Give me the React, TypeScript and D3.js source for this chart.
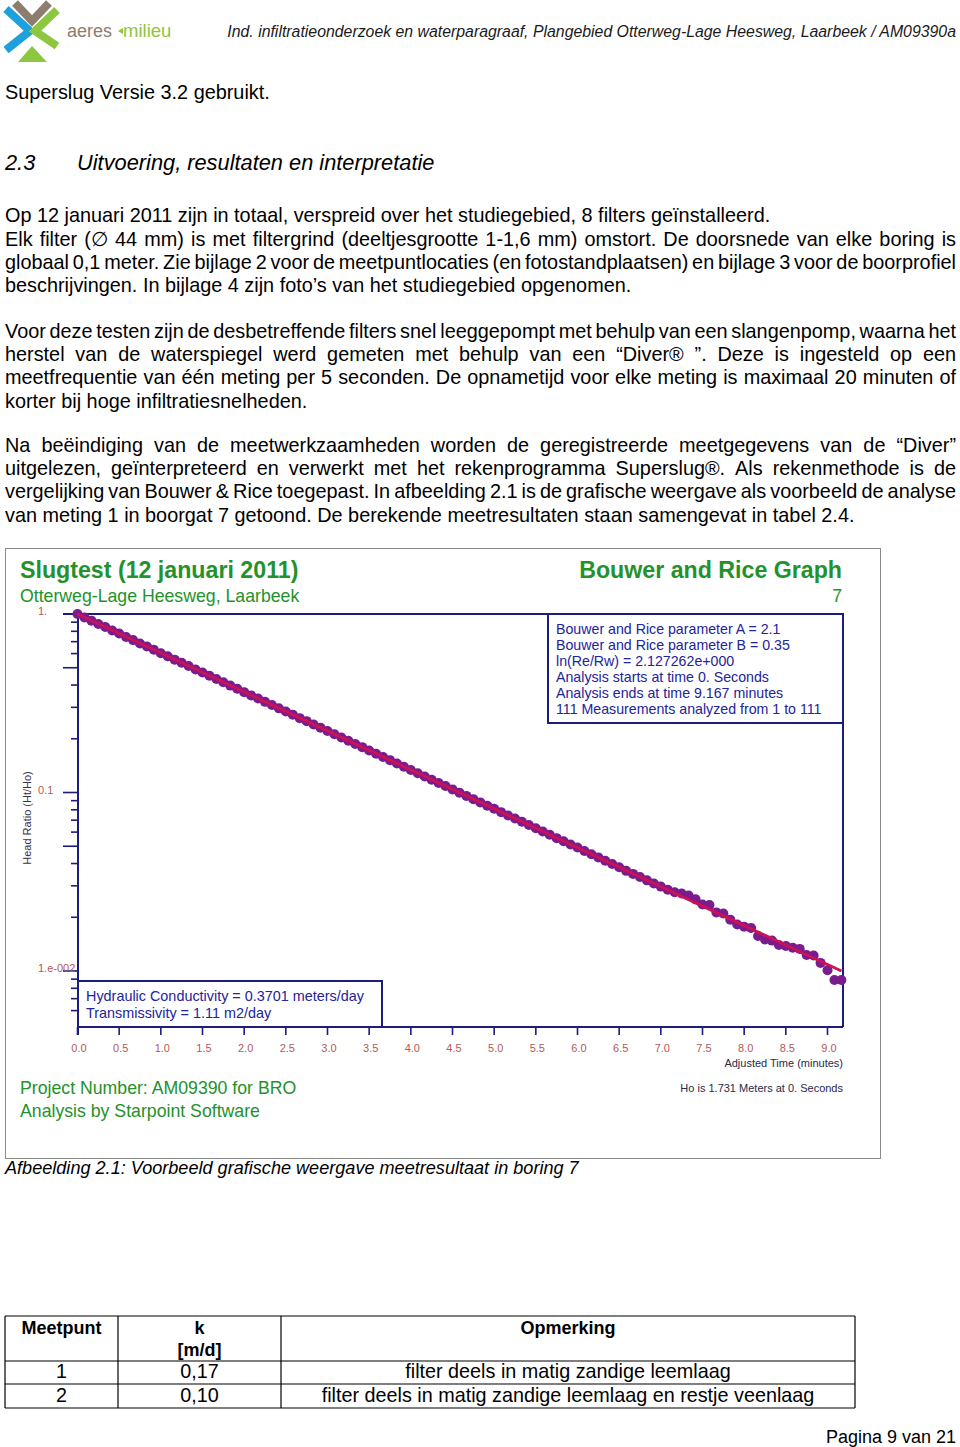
import React, { useEffect, useRef } from 'react';
import * as d3 from 'd3';

const W = 960;
const H = 1447;
const FONT = "'Liberation Sans', Arial, sans-serif";

// page text
const HEADER_TEXT = 'Ind. infiltratieonderzoek en waterparagraaf, Plangebied Otterweg-Lage Heesweg, Laarbeek / AM09390a';
const INTRO_LINE = 'Superslug Versie 3.2 gebruikt.';
const SECTION_NR = '2.3';
const SECTION_TITLE = 'Uitvoering, resultaten en interpretatie';
const PARA_1A = ['Op 12 januari 2011 zijn in totaal, verspreid over het studiegebied, 8 filters geïnstalleerd.'];
const PARA_1B = [
  'Elk filter (∅ 44 mm) is met filtergrind (deeltjesgrootte 1-1,6 mm) omstort. De doorsnede van elke boring is',
  'globaal 0,1 meter. Zie bijlage 2 voor de meetpuntlocaties (en fotostandplaatsen) en bijlage 3 voor de boorprofiel',
  'beschrijvingen. In bijlage 4 zijn foto’s van het studiegebied opgenomen.',
];
const PARA_2 = [
  'Voor deze testen zijn de desbetreffende filters snel leeggepompt met behulp van een slangenpomp, waarna het',
  'herstel van de waterspiegel werd gemeten met behulp van een “Diver® ”. Deze is ingesteld op een',
  'meetfrequentie van één meting per 5 seconden. De opnametijd voor elke meting is maximaal 20 minuten of',
  'korter bij hoge infiltratiesnelheden.',
];
const PARA_3 = [
  'Na beëindiging van de meetwerkzaamheden worden de geregistreerde meetgegevens van de “Diver”',
  'uitgelezen, geïnterpreteerd en verwerkt met het rekenprogramma Superslug®. Als rekenmethode is de',
  'vergelijking van Bouwer & Rice toegepast. In afbeelding 2.1 is de grafische weergave als voorbeeld de analyse',
  'van meting 1 in boorgat 7 getoond. De berekende meetresultaten staan samengevat in tabel 2.4.',
];
const CAPTION = 'Afbeelding 2.1: Voorbeeld grafische weergave meetresultaat in boring 7';
const FOOTER = 'Pagina 9 van 21';

// chart texts
const CHART_TITLE = 'Slugtest (12 januari 2011)';
const CHART_SUBTITLE = 'Otterweg-Lage Heesweg, Laarbeek';
const GRAPH_TITLE = 'Bouwer and Rice Graph';
const WELL_NR = '7';
const INFO_LINES = [
  'Bouwer and Rice parameter A = 2.1',
  'Bouwer and Rice parameter B = 0.35',
  'ln(Re/Rw) = 2.127262e+000',
  'Analysis starts at time 0. Seconds',
  'Analysis ends at time 9.167 minutes',
  '111 Measurements analyzed from 1 to 111',
];
const RESULT_LINES = ['Hydraulic Conductivity = 0.3701 meters/day', 'Transmissivity = 1.11 m2/day'];
const PROJECT_LINES = ['Project Number: AM09390 for BRO', 'Analysis by Starpoint Software'];
const X_TITLE = 'Adjusted Time (minutes)';
const Y_TITLE = 'Head Ratio (Ht/Ho)';
const HO_NOTE = 'Ho is 1.731 Meters at 0. Seconds';

// measurements: time (s) and head ratio Ht/Ho
const TIME_SEC = [
  0, 5, 10, 15, 20, 25, 30, 35, 40, 45, 50, 55, 60, 65, 70, 75, 80, 85, 90, 95,
  100, 105, 110, 115, 120, 125, 130, 135, 140, 145, 150, 155, 160, 165, 170, 175, 180, 185, 190, 195,
  200, 205, 210, 215, 220, 225, 230, 235, 240, 245, 250, 255, 260, 265, 270, 275, 280, 285, 290, 295,
  300, 305, 310, 315, 320, 325, 330, 335, 340, 345, 350, 355, 360, 365, 370, 375, 380, 385, 390, 395,
  400, 405, 410, 415, 420, 425, 430, 435, 440, 445, 450, 455, 460, 465, 470, 475, 480, 485, 490, 495,
  500, 505, 510, 515, 520, 525, 530, 535, 540, 545, 550,
];
const HEAD_RATIO = [
  1.0, 0.955, 0.918, 0.879, 0.845, 0.809, 0.777, 0.744, 0.714, 0.684,
  0.657, 0.63, 0.603, 0.579, 0.555, 0.533, 0.511, 0.489, 0.47, 0.451,
  0.432, 0.415, 0.397, 0.381, 0.365, 0.35, 0.336, 0.322, 0.309, 0.296,
  0.284, 0.273, 0.261, 0.251, 0.2405, 0.2305, 0.221, 0.212, 0.2035, 0.195,
  0.187, 0.1795, 0.172, 0.165, 0.1582, 0.1518, 0.1455, 0.1395, 0.1338, 0.1283,
  0.123, 0.118, 0.1131, 0.1087, 0.1041, 0.0998, 0.0957, 0.0918, 0.088, 0.0844,
  0.081, 0.0776, 0.0744, 0.0715, 0.0685, 0.0657, 0.063, 0.0604, 0.058, 0.0555,
  0.0533, 0.0511, 0.0492, 0.047, 0.0451, 0.0433, 0.0415, 0.0398, 0.0381, 0.0364,
  0.035, 0.0336, 0.0322, 0.0309, 0.0297, 0.0285, 0.0276, 0.0272, 0.0265, 0.0252,
  0.0236, 0.0234, 0.0213, 0.021, 0.0194, 0.0182, 0.0177, 0.0174, 0.0157, 0.015,
  0.0148, 0.014, 0.0138, 0.0135, 0.0133, 0.0123, 0.0122, 0.0111, 0.0101, 0.0089,
  0.0089,
];
// fitted Bouwer & Rice line
const FIT_TIME_MIN = [0, 9.167];
const FIT_RATIO = [1.0, 0.01];

const X_TICKS = [0, 0.5, 1, 1.5, 2, 2.5, 3, 3.5, 4, 4.5, 5, 5.5, 6, 6.5, 7, 7.5, 8, 8.5, 9];
const Y_LABEL_VALUES = [1, 0.1, 0.01];
const Y_LABEL_TEXT = ['1.', '0.1', '1.e-002'];

// table
const TABLE_HEAD = ['Meetpunt', 'k', 'Opmerking'];
const TABLE_UNIT = '[m/d]';
const TABLE_MEETPUNT = ['1', '2'];
const TABLE_K = ['0,17', '0,10'];
const TABLE_OPM = [
  'filter deels in matig zandige leemlaag',
  'filter deels in matig zandige leemlaag en restje veenlaag',
];

const GREEN = '#23922a';
const NAVY = '#1c1c7c';
const BLUE_TXT = '#23239a';
const TICK_TXT = '#b05a5a';

const App = () => {
  const svgRef = useRef<SVGSVGElement>(null);

  useEffect(() => {
    const svg = d3.select(svgRef.current);
    svg.selectAll('*').remove();
    svg.attr('width', W).attr('height', H).style('font-family', FONT);

    svg.append('rect').attr('width', W).attr('height', H).attr('fill', '#fff');

    // ---- logo
    const logo = svg.append('g');
    logo.append('polyline').attr('points', '6,9 30,31 6,50')
      .attr('fill', 'none').attr('stroke', '#1ea0dc').attr('stroke-width', 8);
    logo.append('polyline').attr('points', '15,3 32,21 49,3')
      .attr('fill', 'none').attr('stroke', '#8c7d6e').attr('stroke-width', 8);
    logo.append('polyline').attr('points', '57,10 35,31 57,46')
      .attr('fill', 'none').attr('stroke', '#8dc63f').attr('stroke-width', 8);
    logo.append('polygon').attr('points', '18,62 32,46 47,62').attr('fill', '#8dc63f');
    logo.append('text').attr('x', 67).attr('y', 37).attr('font-size', 18)
      .attr('fill', '#8c7d6e').text('aeres');
    logo.append('polygon').attr('points', '118,31 123,28 123,34').attr('fill', '#8dc63f');
    logo.append('text').attr('x', 123).attr('y', 37).attr('font-size', 18.5)
      .attr('fill', '#8dc63f').text('milieu');

    svg.append('text').attr('x', 956).attr('y', 37).attr('text-anchor', 'end')
      .attr('font-size', 15.85).attr('font-style', 'italic').attr('fill', '#1a1a1a')
      .text(HEADER_TEXT);

    // ---- body text
    const body = svg.append('g').attr('font-size', 19.85).attr('fill', '#000');
    const drawLine = (text: string, y: number, justify: boolean) => {
      if (!justify) {
        body.append('text').attr('x', 5).attr('y', y).text(text);
        return;
      }
      const words = text.split(' ');
      const t = body.append('text').attr('y', y);
      const spans = words.map(w => t.append('tspan').text(w));
      const widths = spans.map(s => (s.node() as SVGTSpanElement).getComputedTextLength());
      const gap = (951 - d3.sum(widths)) / (words.length - 1);
      let cx = 5;
      spans.forEach((s, i) => {
        s.attr('x', cx);
        cx += widths[i] + gap;
      });
    };
    const drawPara = (lines: string[], y0: number) => {
      lines.forEach((l, i) => drawLine(l, y0 + i * 23.2, i < lines.length - 1));
    };

    drawLine(INTRO_LINE, 99, false);
    svg.append('text').attr('x', 5).attr('y', 170).attr('font-size', 21.8)
      .attr('font-style', 'italic').text(SECTION_NR);
    svg.append('text').attr('x', 77).attr('y', 170).attr('font-size', 21.8)
      .attr('font-style', 'italic').text(SECTION_TITLE);
    drawPara(PARA_1A, 222);
    drawPara(PARA_1B, 245.5);
    drawPara(PARA_2, 338);
    drawPara(PARA_3, 452);

    // ---- chart
    const left = 78, right = 843, top = 614, bottom = 1027;
    const x = d3.scaleLinear().domain([0, 9]).range([77.5, 827.5]);
    const y = d3.scaleLog().domain([1, 0.01]).range([top, 971]);

    const chart = svg.append('g');
    chart.append('rect').attr('x', 5.5).attr('y', 548.5).attr('width', 875).attr('height', 610)
      .attr('fill', '#fff').attr('stroke', '#8a8a8a');

    chart.append('text').attr('x', 20).attr('y', 578).attr('font-size', 23.2)
      .attr('font-weight', 'bold').attr('fill', GREEN).text(CHART_TITLE);
    chart.append('text').attr('x', 20).attr('y', 602).attr('font-size', 17.7)
      .attr('fill', GREEN).text(CHART_SUBTITLE);
    chart.append('text').attr('x', 842).attr('y', 578).attr('font-size', 23.2)
      .attr('text-anchor', 'end').attr('font-weight', 'bold').attr('fill', GREEN).text(GRAPH_TITLE);
    chart.append('text').attr('x', 842).attr('y', 602).attr('font-size', 17.7)
      .attr('text-anchor', 'end').attr('fill', GREEN).text(WELL_NR);

    // y ticks
    const yTicks = y.copy().domain([0.006, 1]).ticks();
    chart.append('g').selectAll('line').data(yTicks).join('line')
      .attr('x1', d => {
        const m = Math.round(d / Math.pow(10, Math.floor(Math.log10(d) + 1e-9)));
        return m === 1 || m === 5 ? 63 : 71;
      })
      .attr('x2', left)
      .attr('y1', d => y(d)).attr('y2', d => y(d))
      .attr('stroke', NAVY).attr('stroke-width', 1.6);
    chart.append('g').selectAll('text').data(Y_LABEL_VALUES).join('text')
      .attr('x', 38).attr('y', d => y(d) + 1)
      .attr('font-size', 11).attr('fill', TICK_TXT)
      .text((d, i) => Y_LABEL_TEXT[i]);
    chart.append('text')
      .attr('transform', `translate(31,818) rotate(-90)`)
      .attr('text-anchor', 'middle').attr('font-size', 11).attr('fill', '#333355')
      .text(Y_TITLE);

    // x ticks
    chart.append('g').selectAll('line').data(X_TICKS).join('line')
      .attr('x1', d => x(d)).attr('x2', d => x(d))
      .attr('y1', bottom).attr('y2', bottom + 8)
      .attr('stroke', NAVY).attr('stroke-width', 1.6);
    chart.append('g').selectAll('text').data(X_TICKS).join('text')
      .attr('x', d => x(d) + 1.5).attr('y', 1052)
      .attr('text-anchor', 'middle').attr('font-size', 11).attr('fill', TICK_TXT)
      .text(d => d3.format('.1f')(d));
    chart.append('text').attr('x', right).attr('y', 1067).attr('text-anchor', 'end')
      .attr('font-size', 11).attr('fill', '#2a2a4a').text(X_TITLE);
    chart.append('text').attr('x', right).attr('y', 1092).attr('text-anchor', 'end')
      .attr('font-size', 11).attr('fill', '#2a2a4a').text(HO_NOTE);

    // plot frame
    const frame = chart.append('g').attr('stroke', NAVY).attr('stroke-width', 2).attr('fill', 'none');
    frame.append('line').attr('x1', left).attr('x2', left).attr('y1', top).attr('y2', bottom + 8);
    frame.append('line').attr('x1', left).attr('x2', right).attr('y1', bottom).attr('y2', bottom);
    frame.append('line').attr('x1', right).attr('x2', right).attr('y1', top).attr('y2', bottom);
    frame.append('line').attr('x1', 63).attr('x2', right).attr('y1', top).attr('y2', top);

    // info box
    chart.append('rect').attr('x', 548).attr('y', top).attr('width', right - 548).attr('height', 109)
      .attr('fill', '#fff').attr('stroke', NAVY).attr('stroke-width', 2);
    chart.append('g').selectAll('text').data(INFO_LINES).join('text')
      .attr('x', 556).attr('y', (d, i) => 634 + i * 16)
      .attr('font-size', 14.2).attr('fill', BLUE_TXT).text(d => d);

    // measurements + fit
    const pts = TIME_SEC.map((t, i) => ({ t: t / 60, r: HEAD_RATIO[i] }));
    chart.append('g').selectAll('circle').data(pts).join('circle')
      .attr('cx', d => x(d.t)).attr('cy', d => y(d.r)).attr('r', 5)
      .attr('fill', '#7a1c8e');
    const fit = FIT_TIME_MIN.map((t, i) => ({ t, r: FIT_RATIO[i] }));
    chart.append('path').datum(fit)
      .attr('d', d3.line<{ t: number; r: number }>().x(d => x(d.t)).y(d => y(d.r)))
      .attr('fill', 'none').attr('stroke', '#cc1256').attr('stroke-width', 3);

    // result box
    chart.append('rect').attr('x', left).attr('y', 981).attr('width', 304).attr('height', bottom - 981)
      .attr('fill', '#fff').attr('stroke', NAVY).attr('stroke-width', 2);
    chart.append('g').selectAll('text').data(RESULT_LINES).join('text')
      .attr('x', 86).attr('y', (d, i) => 1001 + i * 17)
      .attr('font-size', 14.4).attr('fill', BLUE_TXT).text(d => d);

    chart.append('g').selectAll('text').data(PROJECT_LINES).join('text')
      .attr('x', 20).attr('y', (d, i) => 1094 + i * 22.5)
      .attr('font-size', 17.7).attr('fill', GREEN).text(d => d);

    svg.append('text').attr('x', 5).attr('y', 1174).attr('font-size', 18.1)
      .attr('font-style', 'italic').text(CAPTION);

    // ---- table
    const cols = [5, 118, 281, 855];
    const rows = [1316, 1361, 1384, 1408];
    const tbl = svg.append('g');
    tbl.selectAll('line.h').data(rows).join('line')
      .attr('x1', cols[0]).attr('x2', cols[3]).attr('y1', d => d).attr('y2', d => d)
      .attr('stroke', '#000').attr('stroke-width', 1.2);
    tbl.selectAll('line.v').data(cols).join('line')
      .attr('x1', d => d).attr('x2', d => d).attr('y1', rows[0]).attr('y2', rows[3])
      .attr('stroke', '#000').attr('stroke-width', 1.2);
    const colMid = (c: number) => (cols[c] + cols[c + 1]) / 2;
    const tt = tbl.append('g').attr('text-anchor', 'middle');
    TABLE_HEAD.forEach((h, c) => {
      tt.append('text').attr('x', colMid(c)).attr('y', 1334).attr('font-size', 18)
        .attr('font-weight', 'bold').text(h);
    });
    tt.append('text').attr('x', colMid(1)).attr('y', 1356).attr('font-size', 18)
      .attr('font-weight', 'bold').text(TABLE_UNIT);
    TABLE_MEETPUNT.forEach((m, i) => {
      const yy = 1378 + i * 24;
      tt.append('text').attr('x', colMid(0)).attr('y', yy).attr('font-size', 19.8).text(m);
      tt.append('text').attr('x', colMid(1)).attr('y', yy).attr('font-size', 19.8).text(TABLE_K[i]);
      tt.append('text').attr('x', colMid(2)).attr('y', yy).attr('font-size', 19.8).text(TABLE_OPM[i]);
    });

    svg.append('text').attr('x', 956).attr('y', 1443).attr('text-anchor', 'end')
      .attr('font-size', 18).text(FOOTER);
  }, []);

  return (
    <div style={{ position: 'absolute', left: 0, top: 0, width: W, height: H, overflow: 'hidden' }}>
      <svg ref={svgRef} style={{ display: 'block' }} />
    </div>
  );
};

export default App;
